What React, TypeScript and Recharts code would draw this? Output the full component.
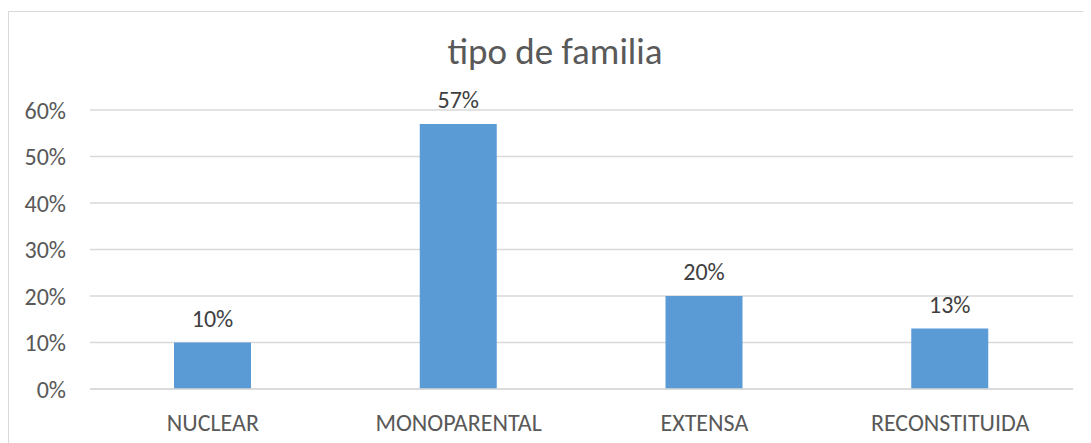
import React from 'react'
import { BarChart, Bar, XAxis, YAxis, CartesianGrid, LabelList } from 'recharts'

const categories = ['NUCLEAR', 'MONOPARENTAL', 'EXTENSA', 'RECONSTITUIDA']
const shares = [10, 57, 20, 13]
const yTicks = [0, 10, 20, 30, 40, 50, 60]

const data = categories.map((name, i) => ({ name, value: shares[i] }))

const FONT = "Calibri, Carlito, 'Open Sans', sans-serif"
const pct = (v: number) => `${v}%`

export default function App() {
  return (
    <div style={{ position: 'relative', width: 1083, height: 435, overflow: 'hidden', fontFamily: FONT }}>
      <div
        style={{
          position: 'absolute',
          left: 0,
          top: 3,
          width: 1200,
          height: 600,
          borderLeft: '1px solid #d9d9d9',
          borderTop: '1px solid #d9d9d9',
        }}
      />
      <div
        style={{
          position: 'absolute',
          left: 0,
          width: 1094,
          top: 22,
          textAlign: 'center',
          fontSize: 37,
          lineHeight: '44px',
          color: '#595959',
        }}
      >
        tipo de familia
      </div>
      <div style={{ position: 'absolute', left: 0, top: 0 }}>
        <BarChart
          width={1083}
          height={435}
          data={data}
          margin={{ top: 102, right: 18, bottom: 0, left: 22 }}
        >
          <CartesianGrid vertical={false} stroke="#d9d9d9" strokeWidth={1.5} />
          <XAxis
            dataKey="name"
            axisLine={{ stroke: '#d9d9d9', strokeWidth: 1.5 }}
            tickLine={false}
            tickSize={0}
            tickMargin={25}
            height={54}
            tick={{ fill: '#595959', fontSize: 24, fontFamily: FONT }}
          />
          <YAxis
            domain={[0, 60]}
            ticks={yTicks}
            tickFormatter={pct}
            axisLine={false}
            tickLine={false}
            tickSize={0}
            tickMargin={24}
            width={60}
            tick={{ fill: '#595959', fontSize: 24, fontFamily: FONT }}
          />
          <Bar dataKey="value" fill="#5b9bd5" barSize={77} isAnimationActive={false}>
            <LabelList
              dataKey="value"
              position="top"
              offset={16}
              formatter={(v: any) => pct(v)}
              style={{ fill: '#404040', fontSize: 24, fontFamily: FONT }}
            />
          </Bar>
        </BarChart>
      </div>
    </div>
  )
}
